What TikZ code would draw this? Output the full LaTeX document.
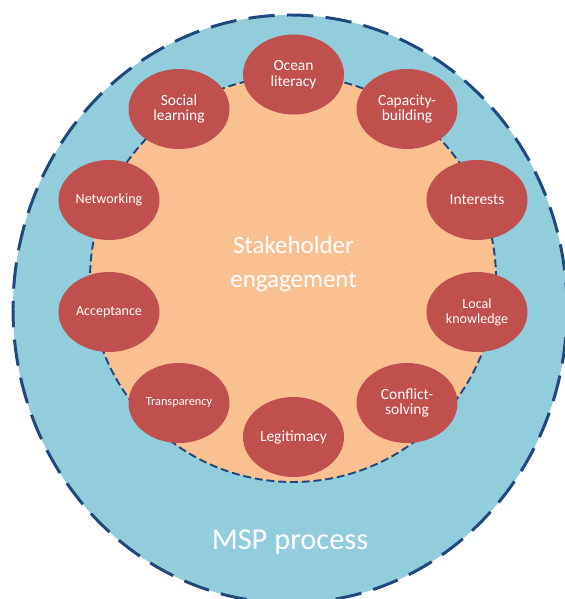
\documentclass[tikz,border=0pt]{standalone}
\usepackage{fontspec}
\setmainfont{Carlito}
\usepackage{tikz}
\usetikzlibrary{positioning, shapes.geometric}

\definecolor{mspblue}{HTML}{92CDDC}
\definecolor{dashblue}{HTML}{1F497D}
\definecolor{engorange}{HTML}{FAC090}
\definecolor{aspectred}{HTML}{C0504D}

\begin{document}
\begin{tikzpicture}[
  every node/.style={font=\fontsize{8.8}{9}\selectfont, text=white},
  aspect/.style={ellipse, fill=aspectred, minimum width=2.02cm, minimum height=1.6cm, inner sep=0pt, align=center},
  small/.style={font=\fontsize{8}{8.4}\selectfont},
  tiny/.style={font=\fontsize{7}{7.4}\selectfont}
]
\clip (0,0) rectangle (11.3,11.98);

% Outer ring: the MSP process
\draw[fill=mspblue, draw=dashblue, line width=1.7pt, dash pattern=on 15pt off 7pt]
  (5.80,5.80) ellipse [x radius=5.54cm, y radius=5.88cm];

% Inner disc: stakeholder engagement
\draw[fill=engorange, draw=dashblue, line width=1.1pt, dash pattern=on 4.5pt off 2.2pt]
  (5.86,6.40) circle [radius=4.06cm];

\node[font=\fontsize{14.2}{19.5}\selectfont, align=center] (engage) at (5.87,6.70) {Stakeholder\\engagement};
\node[font=\fontsize{17.3}{20}\selectfont, anchor=base] (msp) at (5.80,0.98) {MSP process};

% Ring of aspects, clockwise from the top
\node[aspect] (ocean) at (5.87,10.49) {Ocean\\literacy};
\node[aspect] (capacity) at (8.14,9.80) {Capacity-\\building};
\node[aspect] (interests) at (9.54,7.98) {Interests};
\node[aspect, small] (local) at (9.54,5.74) {Local\\knowledge};
\node[aspect] (conflict) at (8.14,3.92) {Conflict-\\solving};
\node[aspect] (legitimacy) at (5.87,3.24) {Legitimacy};
\node[aspect, tiny] (transparency) at (3.58,3.92) {Transparency};
\node[aspect, small] (acceptance) at (2.18,5.74) {Acceptance};
\node[aspect, small] (networking) at (2.18,7.98) {Networking};
\node[aspect] (social) at (3.58,9.80) {Social\\learning};

\end{tikzpicture}
\end{document}
